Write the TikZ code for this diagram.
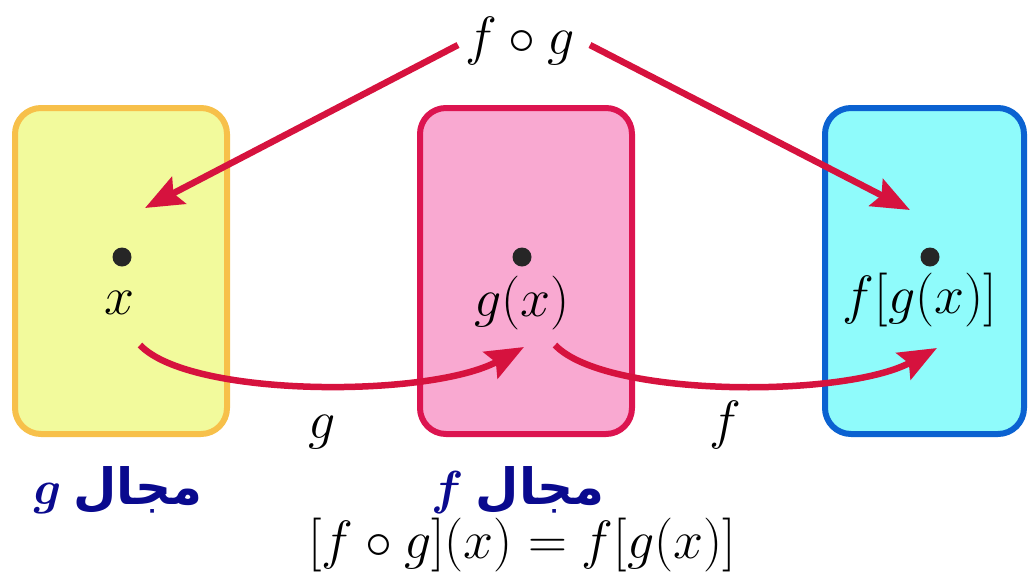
\documentclass[tikz,border=0pt]{standalone}
\usepackage{fontspec}
\usepackage{amsmath}
\usepackage{bm}
\usetikzlibrary{arrows.meta}
\newfontfamily\arabicfont[Script=Arabic]{DejaVu Sans}
\TeXXeTstate=1
\definecolor{yfill}{HTML}{F2FA9C}
\definecolor{ydraw}{HTML}{F7C04A}
\definecolor{pfill}{HTML}{F9A9D1}
\definecolor{pdraw}{HTML}{DC1450}
\definecolor{cfill}{HTML}{8FFBFB}
\definecolor{cdraw}{HTML}{0B62D1}
\definecolor{arred}{HTML}{D6123E}
\definecolor{dblue}{HTML}{0A0A8E}
\tikzset{
  setbox/.style={rounded corners=26pt, line width=6pt, minimum width=212pt, minimum height=326pt, inner sep=0pt},
  pt/.style={circle, fill=black!85, minimum size=19pt, inner sep=0pt},
  mlabel/.style={font=\huge, scale=2.6, inner sep=0pt},
  arr/.style={draw=arred, line width=6.5pt, -{Stealth[length=38pt,width=30pt,inset=6pt]}},
  domlabel/.style={font=\fontsize{50}{58}\selectfont\bfseries, text=dblue, inner sep=0pt},
}
\newcommand{\domtext}[1]{\scalebox{2.3}{\huge$\bm{#1}$}\hspace{12pt}{\arabicfont\beginR مجال\endR}}
\begin{document}
\begin{tikzpicture}[x=1pt,y=-1pt]
\useasboundingbox (0,0) rectangle (1029,582);
\node[setbox, fill=yfill, draw=ydraw] (A) at (121,271) {};
\node[setbox, fill=pfill, draw=pdraw] (B) at (526,271) {};
\node[setbox, fill=cfill, draw=cdraw, minimum width=199pt] (C) at (924.5,271) {};
\node[pt] (pa) at (122,257) {};
\node[pt] (pb) at (522,257) {};
\node[pt] (pc) at (930,257) {};
\node[mlabel] (xa) at (120,303) {$x$};
\node[mlabel] (xb) at (522,303) {$g(x)$};
\node[mlabel] (xc) at (920,300) {$f[g(x)]$};
\node[mlabel] (fg) at (520,41) {$f\circ g$};
\node[mlabel] (lg) at (322,432) {$g$};
\node[mlabel] (lf) at (725,425) {$f$};
\node[domlabel] (dg) at (118,490) {\domtext{g}};
\node[domlabel] (df) at (518,490) {\domtext{f}};
\node[mlabel] (eq) at (522,545) {$[f\circ g](x)=f[g(x)]$};
\coordinate (s1) at (458,45);
\coordinate (e1) at (145,208);
\coordinate (s2) at (590,45);
\coordinate (e2) at (910,210);
\coordinate (s3) at (140,345);
\coordinate (e3) at (524,347);
\coordinate (s4) at (555,345);
\coordinate (e4) at (937,348);
\draw[arr] (s1) -- (e1);
\draw[arr] (s2) -- (e2);
\draw[arr] (s3) .. controls (190,398) and (430,398) .. (e3);
\draw[arr] (s4) .. controls (605,398) and (845,398) .. (e4);
\end{tikzpicture}
\end{document}
